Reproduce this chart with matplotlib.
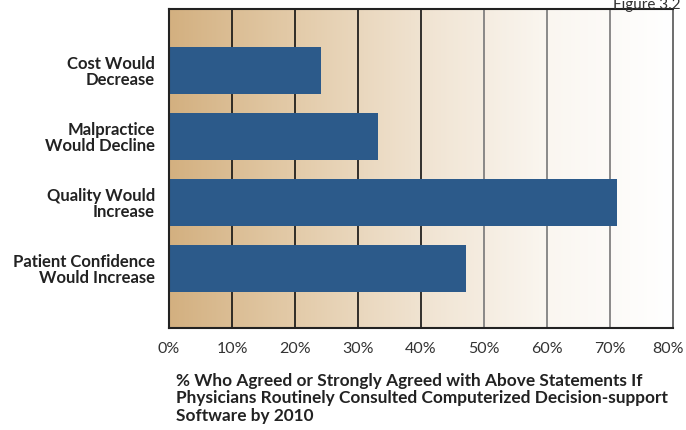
import numpy as np
import matplotlib.pyplot as plt
import matplotlib.transforms as mtransforms
from matplotlib.colors import LinearSegmentedColormap

plt.rcParams['font.family'] = ['Lato', 'DejaVu Sans']

categories = ["Cost Would\nDecrease", "Malpractice\nWould Decline",
              "Quality Would\nIncrease", "Patient Confidence\nWould Increase"]
values = [24.1, 33.2, 71.1, 47.1]
xticks = [0, 10, 20, 30, 40, 50, 60, 70, 80]
xtick_labels = ["0%", "10%", "20%", "30%", "40%", "50%", "60%", "70%", "80%"]

fig = plt.figure(figsize=(6.86, 4.30), dpi=100)
ax = fig.add_axes([169/686, 1 - 328/430, 504/686, 319/430])

# tan-to-white background gradient
cmap = LinearSegmentedColormap.from_list(
    "tan", ["#d3b080", "#e3cba9", "#f0e3d1", "#faf6f0", "#ffffff"])
grad = np.linspace(0, 1, 512).reshape(1, -1)
ax.imshow(grad, cmap=cmap, aspect="auto", extent=(0, 80, 3.9, -0.93),
          zorder=0)

# vertical grid lines
for x in xticks[1:-1]:
    ax.axvline(x, color="#111111" if x <= 40 else "#777777", lw=1.2, zorder=1)

y = np.arange(len(categories))
ax.barh(y, values, height=0.71, color="#2c5a8a", zorder=2)

ax.set_xlim(0, 80)
ax.set_ylim(3.9, -0.93)
ax.set_yticks(y)
ax.set_yticklabels(categories, fontweight="bold", fontsize=12,
                   color="#222222", linespacing=1.02)
ax.set_xticks(xticks)
ax.set_xticklabels(xtick_labels, fontsize=11.5, color="#333333")
ax.tick_params(axis="both", length=0)
ax.tick_params(axis="x", pad=10)
ax.tick_params(axis="y", pad=10)

# keep the last tick label inside the canvas
last = ax.get_xticklabels()[-1]
last.set_transform(last.get_transform() +
                   mtransforms.ScaledTranslation(-5/100, 0, fig.dpi_scale_trans))

for side in ["left", "bottom", "top"]:
    ax.spines[side].set_color("#222222")
    ax.spines[side].set_linewidth(1.5)
ax.spines["right"].set_color("#555555")
ax.spines["right"].set_linewidth(1.2)

fig.text(176/686, 1 - 373/430,
         "% Who Agreed or Strongly Agreed with Above Statements If\n"
         "Physicians Routinely Consulted Computerized Decision-support\n"
         "Software by 2010",
         ha="left", va="top", fontsize=12.4, fontweight="bold",
         color="#222222", linespacing=1.1)

fig.text(681/686, 1 + 2/430, "Figure 3.2", ha="right", va="top",
         fontsize=11, color="#333333")

fig.savefig("out.png", dpi=100)
